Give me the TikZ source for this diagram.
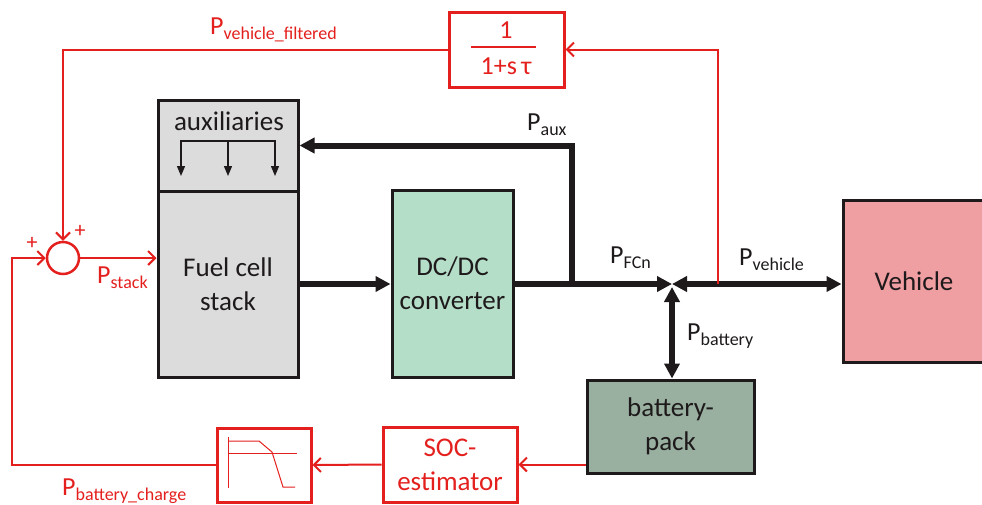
\documentclass[tikz,border=0pt]{standalone}
\usepackage{fontspec}
\setmainfont{Carlito}
\usetikzlibrary{arrows.meta}
\definecolor{myred}{RGB}{228,32,30}
\definecolor{myblack}{RGB}{30,26,27}
\definecolor{fcgray}{RGB}{220,220,220}
\definecolor{dcgreen}{RGB}{181,222,201}
\definecolor{vehpink}{RGB}{239,158,162}
\definecolor{batgreen}{RGB}{153,176,161}
\newcommand{\Psub}[1]{{\fontsize{26}{30}\selectfont P}\raisebox{-5pt}{\fontsize{18}{20}\selectfont #1}}
\begin{document}
\begin{tikzpicture}[x=1pt,y=-1pt,
  blk/.style={draw=myblack, line width=3pt, inner sep=0pt, align=center, text=myblack,
    font=\fontsize{27}{34}\selectfont},
  rbox/.style={draw=myred, line width=3pt, inner sep=0pt, align=center, text=myred,
    font=\fontsize{27}{34}\selectfont},
  pow/.style={line width=6pt, draw=myblack, -{Triangle[length=15pt,width=15pt]}},
  powb/.style={line width=6pt, draw=myblack, {Triangle[length=15pt,width=15pt]}-{Triangle[length=15pt,width=15pt]}},
  sig/.style={draw=myred, line width=2pt, -{Straight Barb[length=7pt,width=14pt]}},
  sigline/.style={draw=myred, line width=2pt},
  blab/.style={anchor=base west, inner sep=0pt, text=myblack},
  rlab/.style={anchor=base west, inner sep=0pt, text=myred},
  icon/.style={draw=myred, line width=1pt},
  auxar/.style={draw=myblack, line width=1.3pt, -{Triangle[length=10pt,width=8pt]}}
]
\clip (0,0) rectangle (982,504);
\fill[white] (0,0) rectangle (982,504);

% blocks
\node[blk, fill=fcgray, minimum width=140pt, minimum height=91pt] (aux) at (228,145.5) {};
\node[blk, fill=fcgray, minimum width=140pt, minimum height=186pt] (fc) at (228,284) {Fuel cell\\stack};
\node[inner sep=0pt, text=myblack, font=\fontsize{27}{34}\selectfont] (auxt) at (229,121) {auxiliaries};
\node[blk, fill=dcgreen, minimum width=121pt, minimum height=187pt] (dc) at (452.5,283.5) {DC/DC\\converter};
\node[blk, fill=vehpink, minimum width=142pt, minimum height=162pt] (veh) at (914,281) {Vehicle};
\node[blk, fill=batgreen, minimum width=167pt, minimum height=93pt] (batt) at (670.5,426.5) {battery-\\pack};
\node[rbox, minimum width=134pt, minimum height=75pt] (soc) at (450,464.5) {SOC-\\estimator};
\node[rbox, minimum width=94pt, minimum height=74pt] (lpf) at (264,465) {};
\node[rbox, minimum width=115pt, minimum height=75pt] (filt) at (506.5,49.5) {};
\node[draw=myred, line width=2.5pt, circle, minimum size=32pt, inner sep=0pt] (sum) at (63,258) {};

% filter fraction
\node[inner sep=0pt, text=myred, font=\fontsize{26}{30}\selectfont] (num) at (506,30) {1};
\node[inner sep=0pt, text=myred, font=\fontsize{26}{30}\selectfont] (den) at (506,66) {1+s\,τ};
\draw[myred, line width=2pt] (471,47) -- (536,47);

% auxiliaries internal arrows
\draw[myblack, line width=1.3pt] (181,141) -- (275,141);
\draw[auxar] (181,140.4) -- (181,176);
\draw[auxar] (228,140.4) -- (228,176);
\draw[auxar] (275,140.4) -- (275,176);

% low-pass icon
\draw[icon] (228,437) -- (228,488);
\draw[icon] (228,453) -- (297,453);
\draw[icon] (228,441) -- (259,441) -- (272,452) -- (283,487) -- (295,487);

% power connectors
\coordinate (junc) at (672,284);
\coordinate (jb) at (672,287);
\coordinate (ptap) at (572,284);
\coordinate (vtap) at (718,284);
\coordinate (lc) at (12,258);
\draw[pow] (fc.east |- ptap) -- (dc.west |- ptap);
\draw[pow] (dc.east |- ptap) -- (junc);
\draw[pow] (ptap) |- (aux.east);
\draw[powb] (junc) -- (veh.west |- junc);
\draw[powb] (jb) -- (batt.north -| jb);

% signal connectors
\draw[sig] (vtap) |- (filt.east);
\draw[sig] (filt.west) -| (sum.north);
\draw[sig] (sum.east) -- (fc.west |- sum.east);
\draw[sig] (batt.west |- soc.east) -- (soc.east);
\draw[sig] (soc.west) -- (lpf.east);
\draw[sig] (lpf.west) -| (lc) -- (sum.west);

% labels
\node[rlab] (lvf) at (210,34) {\Psub{vehicle\_filtered}};
\node[blab] (laux) at (527,130) {\Psub{aux}};
\node[blab] (lfcn) at (610,263) {\Psub{FCn}};
\node[blab] (lveh) at (739,265) {\Psub{vehicle}};
\node[blab] (lbat) at (687,340) {\Psub{battery}};
\node[rlab] (lstk) at (97,283) {\Psub{stack}};
\node[rlab] (lbc) at (62,495) {\Psub{battery\_charge}};
\node[inner sep=0pt, text=myred, font=\fontsize{22}{24}\selectfont] (pl1) at (32,243) {+};
\node[inner sep=0pt, text=myred, font=\fontsize{22}{24}\selectfont] (pl2) at (80,231) {+};
\end{tikzpicture}
\end{document}
